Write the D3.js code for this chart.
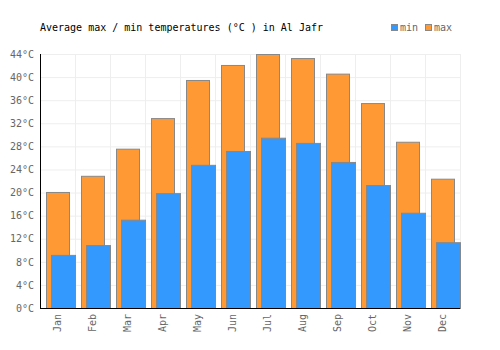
<!DOCTYPE html>
<html>
<head>
<meta charset="utf-8">
<script src="https://cdn.jsdelivr.net/npm/d3@7"></script>
<style>
  body { margin: 0; background: #fff; }
  text { font-family: "DejaVu Sans Mono", monospace; font-size: 10px; }
</style>
</head>
<body>
<svg id="chart"></svg>
<script>
const months = ['Jan', 'Feb', 'Mar', 'Apr', 'May', 'Jun', 'Jul', 'Aug', 'Sep', 'Oct', 'Nov', 'Dec'];
const maxTemps = [20.1, 22.9, 27.6, 32.9, 39.5, 42.1, 44.0, 43.3, 40.6, 35.5, 28.8, 22.4];
const minTemps = [9.2, 10.9, 15.3, 19.9, 24.8, 27.2, 29.5, 28.6, 25.3, 21.3, 16.5, 11.4];
const yTicks = [0, 4, 8, 12, 16, 20, 24, 28, 32, 36, 40, 44];

const width = 500, height = 350;
const margin = { top: 54, right: 40, bottom: 42, left: 40 };
const innerW = width - margin.left - margin.right;
const innerH = height - margin.top - margin.bottom;

const svg = d3.select('#chart')
    .attr('width', width)
    .attr('height', height);

const chart = svg.append('g')
    .attr('transform', `translate(${margin.left},${margin.top})`);

const xScale = d3.scaleBand()
    .domain(months)
    .range([0, innerW]);

const yScale = d3.scaleLinear()
    .domain([0, 44])
    .range([innerH, 0]);

// gridlines
chart.append('g')
    .selectAll('line')
    .data(yTicks)
  .join('line')
    .attr('x1', 0).attr('x2', innerW)
    .attr('y1', d => yScale(d) + 0.5).attr('y2', d => yScale(d) + 0.5)
    .attr('stroke', '#eeeeee');

chart.append('g')
    .selectAll('line')
    .data(months.slice(1).concat(['end']))
  .join('line')
    .attr('x1', (d, i) => (i + 1) * xScale.bandwidth() + 0.5)
    .attr('x2', (d, i) => (i + 1) * xScale.bandwidth() + 0.5)
    .attr('y1', 0).attr('y2', innerH)
    .attr('stroke', '#eeeeee');

// bars: max behind, min in front
const bw = xScale.bandwidth();
chart.append('g')
    .selectAll('rect')
    .data(maxTemps)
  .join('rect')
    .attr('x', (d, i) => xScale(months[i]) + 6.5)
    .attr('y', d => yScale(d) + 0.5)
    .attr('width', bw - 12)
    .attr('height', d => innerH - yScale(d))
    .attr('fill', '#ff9933')
    .attr('stroke', '#888888');

chart.append('g')
    .selectAll('rect')
    .data(minTemps)
  .join('rect')
    .attr('x', (d, i) => xScale(months[i]) + 11.5)
    .attr('y', d => yScale(d) + 0.5)
    .attr('width', bw - 11)
    .attr('height', d => innerH - yScale(d))
    .attr('fill', '#3399ff')
    .attr('stroke', '#888888');

// axes
const yAxis = d3.axisLeft(yScale)
    .tickValues(yTicks)
    .tickSize(0)
    .tickPadding(6)
    .tickFormat(d => d + '°C');

chart.append('g')
    .call(yAxis)
    .call(g => g.select('.domain').remove())
    .call(g => g.selectAll('text').attr('fill', '#666666').style('font-size', '10px').style('font-family', '"DejaVu Sans Mono", monospace'));

const xAxis = d3.axisBottom(xScale).tickSize(0);
chart.append('g')
    .attr('transform', `translate(0,${innerH})`)
    .call(xAxis)
    .call(g => g.select('.domain').remove())
    .call(g => g.selectAll('text')
        .attr('fill', '#666666')
        .style('font-size', '10px')
        .style('font-family', '"DejaVu Sans Mono", monospace')
        .attr('transform', 'rotate(-90)')
        .attr('text-anchor', 'end')
        .attr('x', -6)
        .attr('y', 0)
        .attr('dy', '0.35em'));

chart.append('line')
    .attr('x1', 0.5).attr('x2', 0.5)
    .attr('y1', 0).attr('y2', innerH + 0.5)
    .attr('stroke', '#000');
chart.append('line')
    .attr('x1', 0).attr('x2', innerW)
    .attr('y1', innerH + 0.5).attr('y2', innerH + 0.5)
    .attr('stroke', '#000');

// title
svg.append('text')
    .attr('x', 40)
    .attr('y', 31)
    .attr('fill', '#000')
    .text('Average max / min temperatures (°C ) in Al Jafr');

// legend
const legend = [{ name: 'min', color: '#3399ff' }, { name: 'max', color: '#ff9933' }];
const lg = svg.append('g').attr('transform', 'translate(391,24)');
lg.selectAll('rect')
    .data(legend)
  .join('rect')
    .attr('x', (d, i) => i * 34 + 0.5)
    .attr('y', 0.5)
    .attr('width', 6)
    .attr('height', 6)
    .attr('fill', d => d.color)
    .attr('stroke', '#888888');
lg.selectAll('text')
    .data(legend)
  .join('text')
    .attr('x', (d, i) => i * 34 + 9)
    .attr('y', 7)
    .attr('fill', '#666666')
    .text(d => d.name);
</script>
</body>
</html>
